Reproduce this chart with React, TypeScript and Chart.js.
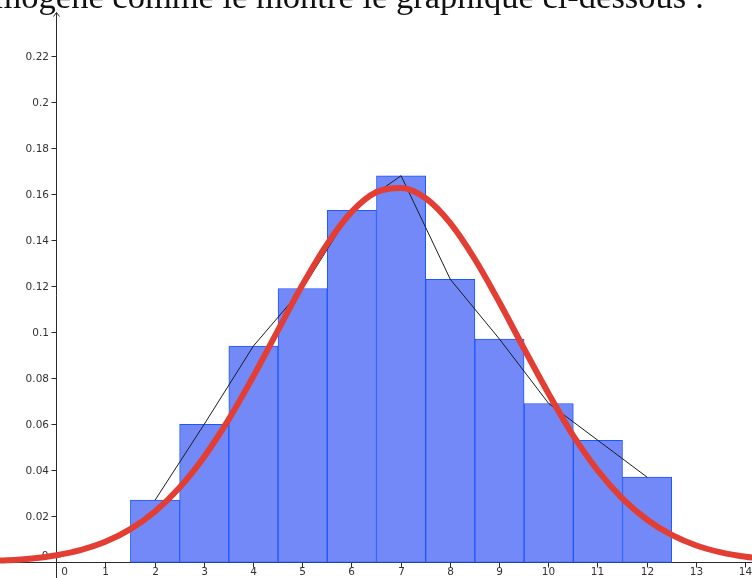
import React, { useEffect, useRef } from 'react';
import { Chart, registerables } from 'chart.js';

Chart.register(...registerables);

// Histogram (bins of width 1 centred on the values)
const binCenters = [2, 3, 4, 5, 6, 7, 8, 9, 10, 11, 12];
const frequencies = [0.027, 0.060, 0.094, 0.119, 0.153, 0.168, 0.123, 0.097, 0.069, 0.053, 0.037];

// Red density curve
const curveX = [-1.5, -1, -0.5, 0, 0.5, 1, 1.5, 2, 2.5, 3, 3.5, 4, 4.5, 5, 5.5, 6, 6.5, 7, 7.5, 8, 8.5, 9, 9.5, 10, 10.5, 11, 11.5, 12, 12.5, 13, 13.5, 14, 14.5];
const curveY = [0.0005, 0.0009, 0.0017, 0.0031, 0.0054, 0.0090, 0.0144, 0.0221, 0.0325, 0.0459, 0.0622, 0.0809, 0.1009, 0.1207, 0.1384, 0.1524, 0.1609, 0.1627, 0.1582, 0.1474, 0.1317, 0.1129, 0.0928, 0.0732, 0.0550, 0.0398, 0.0277, 0.0185, 0.0119, 0.0073, 0.0043, 0.0024, 0.0013];

// Axis ticks
const xTicks = [0, 1, 2, 3, 4, 5, 6, 7, 8, 9, 10, 11, 12, 13, 14];
const xTickLabels = ['0', '1', '2', '3', '4', '5', '6', '7', '8', '9', '10', '11', '12', '13', '14'];
const yTicks = [0, 0.02, 0.04, 0.06, 0.08, 0.1, 0.12, 0.14, 0.16, 0.18, 0.2, 0.22];
const yTickLabels = ['0', '0.02', '0.04', '0.06', '0.08', '0.1', '0.12', '0.14', '0.16', '0.18', '0.2', '0.22'];

const X_MIN = -1.15;
const X_MAX = 14.131;
const Y_MIN = -0.00682;
const Y_MAX = 0.24437;

const headerText = 'homogène comme le montre le graphique ci-dessous :';

const axesPlugin = {
  id: 'geoAxes',
  beforeDatasetsDraw(chart: any) {
    const { ctx, width, height } = chart;
    const xs = chart.scales.x;
    const ys = chart.scales.y;
    const x0 = Math.floor(xs.getPixelForValue(0)) + 0.5;
    const y0 = Math.floor(ys.getPixelForValue(0)) + 0.5;
    ctx.save();
    ctx.strokeStyle = '#2a2a2a';
    ctx.lineWidth = 1;
    ctx.beginPath();
    ctx.moveTo(0, y0);
    ctx.lineTo(width, y0);
    ctx.moveTo(x0, height);
    ctx.lineTo(x0, 12.5);
    ctx.stroke();
    // arrow head on the y axis
    ctx.beginPath();
    ctx.moveTo(x0 - 3, 16.5);
    ctx.lineTo(x0, 12.5);
    ctx.lineTo(x0 + 3, 16.5);
    ctx.stroke();

    ctx.font = '10.5px "DejaVu Sans", sans-serif';
    ctx.fillStyle = '#333';
    ctx.textBaseline = 'middle';

    // x ticks
    xTicks.forEach((v, i) => {
      const px = Math.floor(xs.getPixelForValue(v)) + 0.5;
      if (v !== 0) {
        ctx.beginPath();
        ctx.moveTo(px, y0);
        ctx.lineTo(px, y0 + 5);
        ctx.stroke();
        ctx.textAlign = 'center';
        ctx.fillText(xTickLabels[i], px, y0 + 10);
      } else {
        ctx.textAlign = 'center';
        ctx.fillText(xTickLabels[i], px + 8, y0 + 10);
      }
    });

    // y ticks
    yTicks.forEach((v, i) => {
      const py = Math.floor(ys.getPixelForValue(v)) + 0.5;
      ctx.textAlign = 'right';
      if (v !== 0) {
        ctx.beginPath();
        ctx.moveTo(x0 - 5, py);
        ctx.lineTo(x0, py);
        ctx.stroke();
        ctx.fillText(yTickLabels[i], x0 - 7.5, py + 0.5);
      } else {
        ctx.fillText(yTickLabels[i], x0 - 8, py - 6);
      }
    });
    ctx.restore();
  },
};

export default function App() {
  const canvasRef = useRef<HTMLCanvasElement | null>(null);

  useEffect(() => {
    const canvas = canvasRef.current;
    if (!canvas) return;
    const chart = new Chart(canvas, {
      type: 'bar',
      data: {
        datasets: [
          {
            type: 'line',
            label: 'Densité',
            data: curveX.map((x, i) => ({ x, y: curveY[i] })),
            borderColor: 'rgb(226, 62, 52)',
            borderWidth: 6,
            pointRadius: 0,
            cubicInterpolationMode: 'monotone',
            borderCapStyle: 'round',
            borderJoinStyle: 'round',
            fill: false,
            order: 0,
          } as any,
          {
            type: 'line',
            label: 'Polygone',
            data: binCenters.map((x, i) => ({ x, y: frequencies[i] })),
            borderColor: '#1c1c1c',
            borderWidth: 1,
            pointRadius: 0,
            tension: 0,
            fill: false,
            order: 1,
          } as any,
          {
            type: 'bar',
            label: 'Fréquences',
            data: binCenters.map((x, i) => ({ x, y: frequencies[i] })),
            backgroundColor: 'rgb(115, 137, 247)',
            borderColor: 'rgb(28, 88, 255)',
            borderWidth: 1,
            borderSkipped: false,
            barPercentage: 1,
            categoryPercentage: 1,
            grouped: false,
            order: 2,
          } as any,
        ],
      },
      options: {
        responsive: false,
        maintainAspectRatio: false,
        animation: false,
        devicePixelRatio: 1,
        layout: { padding: 0 },
        scales: {
          x: { type: 'linear', min: X_MIN, max: X_MAX, display: false, offset: false },
          y: { type: 'linear', min: Y_MIN, max: Y_MAX, display: false },
        },
        plugins: {
          legend: { display: false },
          tooltip: { enabled: false },
        },
      },
      plugins: [axesPlugin],
    } as any);
    return () => chart.destroy();
  }, []);

  return (
    <div
      style={{
        position: 'fixed',
        left: 0,
        top: 0,
        width: 752,
        height: 578,
        overflow: 'hidden',
        background: '#fff',
      }}
    >
      <canvas
        ref={canvasRef}
        width={752}
        height={578}
        style={{ position: 'absolute', left: 0, top: 0, width: 752, height: 578 }}
      />
      <div
        style={{
          position: 'absolute',
          left: -40,
          top: -21,
          fontFamily: '"Liberation Serif", serif',
          fontSize: 34.5,
          lineHeight: '34px',
          whiteSpace: 'nowrap',
          color: '#111',
          zIndex: 2,
        }}
      >
        {headerText}
      </div>
    </div>
  );
}
